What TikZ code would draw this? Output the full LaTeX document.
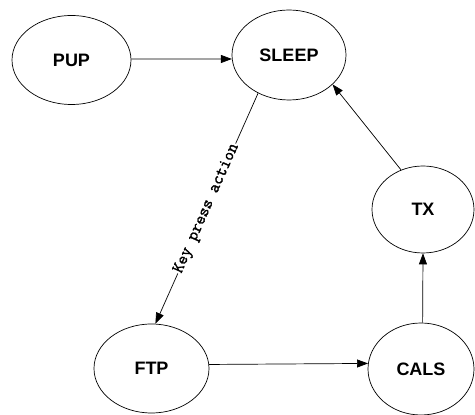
\documentclass[tikz,border=0pt]{standalone}
\usepackage{fontspec}
\setmainfont{Liberation Sans}
\newfontfamily\keyfont[AutoFakeBold=1.8]{Latin Modern Mono}
\usetikzlibrary{shapes.geometric,arrows.meta}
\begin{document}
\begin{tikzpicture}[x=1pt,y=1pt,
  state/.style={draw,ellipse,line width=0.7pt,inner sep=0pt,
    font=\fontsize{18}{20}\selectfont\bfseries},
  arr/.style={line width=0.7pt,-{Triangle[length=11pt,width=8pt]}},
  lbl/.style={fill=white,inner sep=1pt,sloped,
    font=\keyfont\bfseries\fontsize{17}{19}\selectfont}]
\useasboundingbox (0,0) rectangle (475,415);
\node[state,minimum width=119pt,minimum height=89pt] (pup) at (71.5,355) {PUP};
\node[state,minimum width=114pt,minimum height=90pt] (sleep) at (289,360) {SLEEP};
\node[state,minimum width=102pt,minimum height=87pt] (tx) at (423,205.5) {TX};
\node[state,minimum width=106pt,minimum height=92pt] (cals) at (421,46) {CALS};
\node[state,minimum width=115pt,minimum height=89pt] (ftp) at (151.5,46.5) {FTP};
\draw[arr] (pup.1) -- (sleep.184);
\draw[arr] (sleep.231.5) -- node[lbl] {Key press action} (ftp.85.6);
\draw[arr] (ftp.4.5) -- (cals.174.6);
\draw[arr] (cals.88) -- (tx.270);
\draw[arr] (tx.119.9) -- (sleep.326.9);
\end{tikzpicture}
\end{document}
